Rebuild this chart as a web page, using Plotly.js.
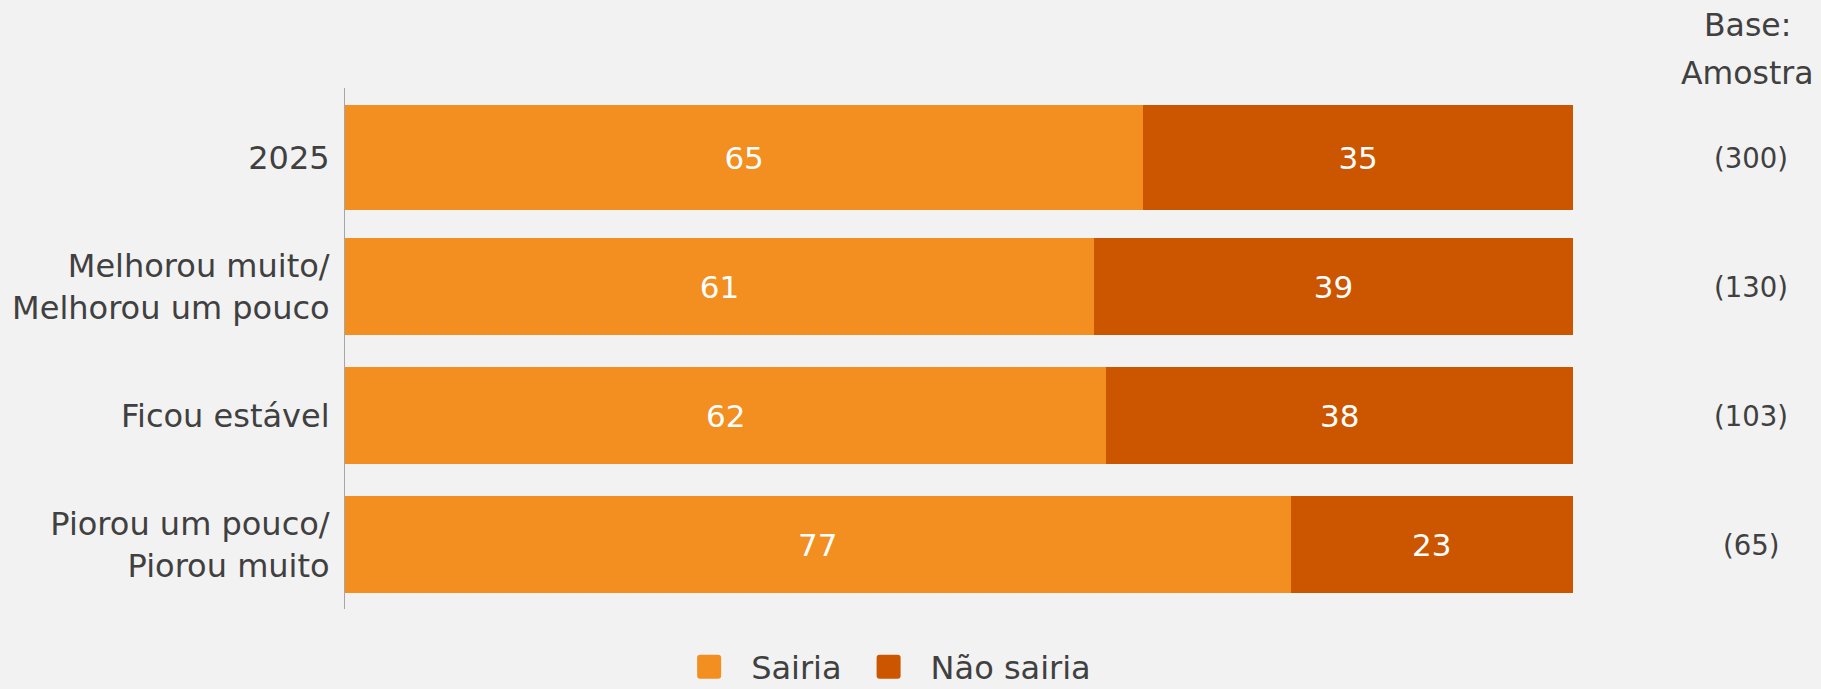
<!DOCTYPE html>
<html>
<head>
<meta charset="utf-8">
<script src="https://cdn.plot.ly/plotly-3.0.1.min.js"></script>
<style>
  html, body { margin: 0; padding: 0; background: #f2f2f2; }
  #chart { width: 1821px; height: 689px; }
</style>
</head>
<body>
<div id="chart"></div>
<script>
const categories = [
  "2025",
  "Melhorou muito/<br>Melhorou um pouco",
  "Ficou estável",
  "Piorou um pouco/<br>Piorou muito"
];
const sairia = [65, 61, 62, 77];
const naoSairia = [35, 39, 38, 23];
const bases = [300, 130, 103, 65];
const seriesNames = ["Sairia", "Não sairia"];
const baseHeaderLines = ["Base:", "Amostra"];

const FONT = "DejaVu Sans, Verdana, sans-serif";
const TXT = "#404040";

const common = {
  type: "bar",
  orientation: "h",
  y: categories,
  width: [0.81, 0.75, 0.75, 0.75],
  texttemplate: "%{x}",
  textposition: "inside",
  insidetextanchor: "middle",
  textfont: { family: FONT, size: 31, color: "#ffffff" },
  hoverinfo: "skip"
};

const traces = [
  Object.assign({}, common, {
    name: seriesNames[0],
    x: sairia,
    marker: { color: "#F38E21", line: { width: 0 } }
  }),
  Object.assign({}, common, {
    name: seriesNames[1],
    x: naoSairia,
    marker: { color: "#CC5500", line: { width: 0 } }
  })
];

const annotations = bases.map((b, i) => ({
  xref: "paper", yref: "y",
  x: 1.145, y: i,
  text: "(" + b + ")",
  showarrow: false,
  xanchor: "center", yanchor: "middle",
  font: { family: FONT, size: 27.5, color: TXT }
}));
const headerY = [1.120, 1.0295];
baseHeaderLines.forEach((t, i) => annotations.push({
  xref: "paper", yref: "paper",
  x: 1.1425, y: headerY[i],
  text: t,
  showarrow: false,
  xanchor: "center", yanchor: "middle",
  font: { family: FONT, size: 31.5, color: TXT }
}));

const layout = {
  width: 1821, height: 689,
  paper_bgcolor: "#f2f2f2",
  plot_bgcolor: "#f2f2f2",
  barmode: "stack",
  margin: { l: 345, r: 248, t: 88, b: 80, pad: 0, autoexpand: false },
  font: { family: FONT, size: 31, color: TXT },
  xaxis: {
    range: [0, 100],
    showgrid: false, zeroline: false, showline: false,
    showticklabels: false, ticks: ""
  },
  yaxis: {
    type: "category",
    range: [3.5, -0.54],
    showgrid: false, zeroline: false,
    showline: true, linecolor: "#a6a6a6", linewidth: 1,
    ticks: "",
    ticklabelstandoff: 8,
    tickfont: { family: FONT, size: 32, color: TXT }
  },
  showlegend: true,
  legend: {
    orientation: "h",
    x: 0.437, xanchor: "center",
    y: -0.1525, yanchor: "bottom",
    itemwidth: 74,
    font: { family: FONT, size: 32, color: TXT },
    bgcolor: "rgba(0,0,0,0)",
    traceorder: "normal"
  },
  annotations: annotations
};

Plotly.newPlot("chart", traces, layout, { displayModeBar: false, staticPlot: true }).then(() => {
  // larger, rounded legend swatches
  const r = 12, c = 3;
  const d = `M${-r + c},${-r}H${r - c}Q${r},${-r} ${r},${-r + c}V${r - c}Q${r},${r} ${r - c},${r}` +
            `H${-r + c}Q${-r},${r} ${-r},${r - c}V${-r + c}Q${-r},${-r} ${-r + c},${-r}Z`;
  document.querySelectorAll(".legend .legendpoints path").forEach(p => p.setAttribute("d", d));
  // nudge legend down a little, keeping its text inside the page
  const lg = document.querySelector("g.legend");
  if (lg) {
    const t = lg.getAttribute("transform") || "";
    const m = t.match(/translate\(\s*([-\d.]+)[ ,]+([-\d.]+)\s*\)/);
    if (m) lg.setAttribute("transform", `translate(${parseFloat(m[1])},${parseFloat(m[2]) + 6})`);
  }
});
</script>
</body>
</html>
